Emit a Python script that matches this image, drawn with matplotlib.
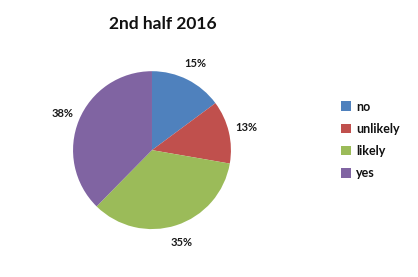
import matplotlib
matplotlib.use("Agg")
import matplotlib.pyplot as plt
from matplotlib.patches import Patch

categories = ["no", "unlikely", "likely", "yes"]
values = [15, 13, 35, 38]
colors = ["#4F81BD", "#C0504D", "#9BBB59", "#8064A2"]
title = "2nd half 2016"

plt.rcParams['font.family'] = ['Lato', 'DejaVu Sans']

fig = plt.figure(figsize=(4.18, 2.77), dpi=100)
ax = fig.add_axes([0.1746, 0.173, 0.378, 0.570])
wedges, texts, autotexts = ax.pie(
    values, colors=colors, startangle=90, counterclock=False,
    autopct='%1.0f%%', pctdistance=1.23,
    wedgeprops=dict(edgecolor='none'),
    textprops=dict(fontsize=8, fontweight='bold', color='#1a1a1a'))
ax.set_xlim(-1, 1)
ax.set_ylim(-1, 1)
ax.set_aspect('equal')
ax.axis('off')

fig.text(0.39, 0.915, title, ha='center', va='center', fontsize=12.5, fontweight='bold', color='#111111')

handles = [Patch(facecolor=c, edgecolor='none') for c in colors]
leg = fig.legend(handles, categories, loc='center left', bbox_to_anchor=(0.79, 0.495),
                 frameon=False, handlelength=0.8, handleheight=0.8, handletextpad=0.35,
                 labelspacing=0.82, prop=dict(size=9, weight='bold'))
for t in leg.get_texts():
    t.set_color('#111111')

fig.savefig("out.png", dpi=100)
